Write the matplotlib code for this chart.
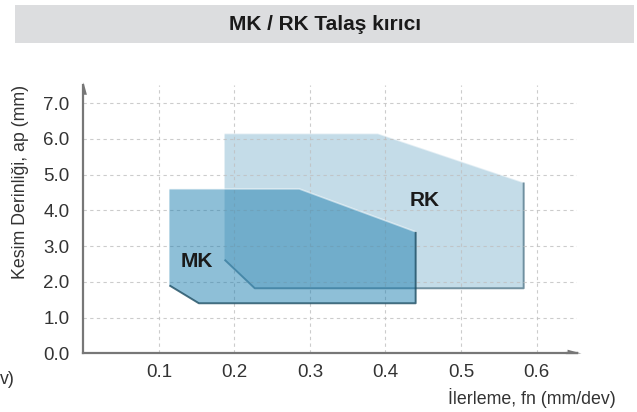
import matplotlib
matplotlib.use('Agg')
import matplotlib.pyplot as plt
from matplotlib.patches import Polygon, Rectangle

plt.rcParams['font.family'] = ['Liberation Sans', 'DejaVu Sans']

# data (feed mm/dev, depth mm)
mk_feed = [0.114, 0.286, 0.440, 0.440, 0.153, 0.114]
mk_depth = [4.6, 4.6, 3.4, 1.4, 1.4, 1.9]
rk_feed = [0.187, 0.390, 0.583, 0.583, 0.227, 0.187]
rk_depth = [6.15, 6.15, 4.78, 1.82, 1.82, 2.62]
labels = ['MK', 'RK']
label_pos = [(0.150, 2.56), (0.452, 4.29)]
x_ticks = [0.1, 0.2, 0.3, 0.4, 0.5, 0.6]
y_ticks = [0.0, 1.0, 2.0, 3.0, 4.0, 5.0, 6.0, 7.0]

AXIS_GREY = '#777777'
TEXT = '#333333'


def draw_zone(ax, feed, depth, face, alpha, edge, z):
    pts = list(zip(feed, depth))
    ax.add_patch(Polygon(pts, closed=True, facecolor=face, alpha=alpha,
                         edgecolor='none', zorder=z))
    # soft light top edge
    ax.plot(feed[:3], depth[:3], color='white', lw=1.2, alpha=0.5,
            zorder=z + 0.1)
    # darker shadow on right, bottom and cut corner
    ax.plot(feed[2:6], depth[2:6], color=edge, lw=1.4, alpha=0.8,
            solid_capstyle='butt', zorder=z + 0.1)


fig = plt.figure(figsize=(6.37, 4.12), dpi=100)

# grey title bar
fig.patches.append(Rectangle((15 / 637, 1 - 43 / 412), 619 / 637, 38 / 412,
                             transform=fig.transFigure, facecolor='#dcdddf',
                             edgecolor='none', zorder=0))
fig.text(325 / 637, 1 - 24 / 412, 'MK / RK Talaş kırıcı', ha='center',
         va='center', fontsize=15, fontweight='bold', color='#1a1a1a')

ax = fig.add_axes([83.3 / 637, 1 - 353.3 / 412, 494 / 637, 268 / 412])
ax.set_xlim(0, 0.654)
ax.set_ylim(0, 7.5)

draw_zone(ax, rk_feed, rk_depth, '#c4dce8', 1.0, '#557a8c', 2)
draw_zone(ax, mk_feed, mk_depth, '#1f80b0', 0.5, '#1d4d62', 3)

for name, (x, y) in zip(labels, label_pos):
    ax.text(x, y, name, ha='center', va='center', fontsize=15,
            fontweight='bold', color='#1a1a1a', zorder=6)

ax.set_xticks(x_ticks)
ax.set_xticklabels([f'{v:.1f}' for v in x_ticks])
ax.set_yticks(y_ticks)
ax.set_yticklabels([f'{v:.1f}' for v in y_ticks])
ax.tick_params(length=0, labelsize=13.5, colors=TEXT)
ax.tick_params(axis='x', pad=8)
ax.tick_params(axis='y', pad=10)
ax.grid(True, linestyle=(0, (3, 3)), color='#c0c0c0', lw=0.8, alpha=0.8,
        zorder=5)
ax.set_axisbelow(False)

for s in ['top', 'right']:
    ax.spines[s].set_visible(False)
for s in ['left', 'bottom']:
    ax.spines[s].set_color(AXIS_GREY)
    ax.spines[s].set_linewidth(1.6)
    ax.spines[s].set_zorder(7)

# half-triangle arrow heads at the axis ends
up_head = [(0, 1), (0, -1), (0.55, -1), (0, 1)]
right_head = [(1, 0), (-1, 0), (-1, 0.55), (1, 0)]
ax.plot(0, 0.99, transform=ax.transAxes, marker=up_head, ms=9,
        color=AXIS_GREY, mew=0, clip_on=False, zorder=8)
ax.plot(0.993, 0, transform=ax.transAxes, marker=right_head, ms=10,
        color=AXIS_GREY, mew=0, clip_on=False, zorder=8)
ax.plot([0.98, 1.0], [0, 0], transform=ax.transAxes, color=AXIS_GREY,
        lw=1.6, clip_on=False)

fig.text(21 / 637, 1 - 182 / 412, 'Kesim Derinliği, ap (mm)', rotation=90,
         ha='center', va='center', fontsize=12.8, color=TEXT)
fig.text(616 / 637, 1 - 398 / 412, 'İlerleme, fn (mm/dev)', ha='right',
         va='center', fontsize=12.8, color=TEXT)
fig.text(0, 1 - 380 / 412, 'v)', ha='left', va='center', fontsize=12.8,
         color=TEXT)

fig.savefig('out.png', dpi=100)
